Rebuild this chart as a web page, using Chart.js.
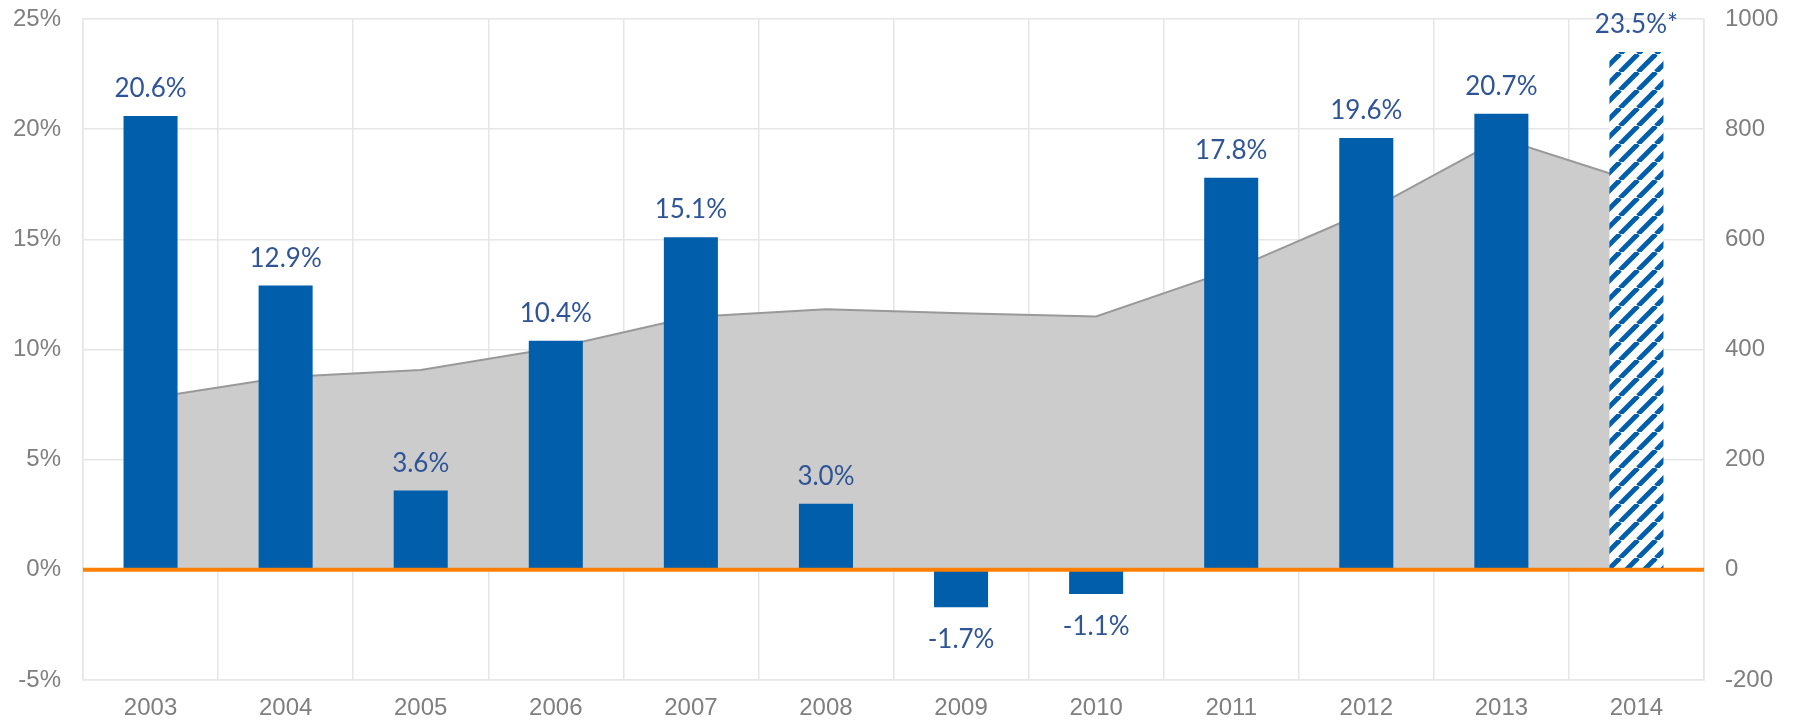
<!DOCTYPE html>
<html>
<head>
<meta charset="utf-8">
<script src="https://cdn.jsdelivr.net/npm/chart.js@4/dist/chart.umd.min.js"></script>
<style>
    html, body { margin: 0; padding: 0; background: #fff; }
    canvas { display: block; }
</style>
</head>
<body>
<canvas id="chartArea" width="1800" height="722"></canvas>
<script>
// Data
const years = ['2003', '2004', '2005', '2006', '2007', '2008', '2009', '2010', '2011', '2012', '2013', '2014'];
const growthPct = [20.6, 12.9, 3.6, 10.4, 15.1, 3.0, -1.7, -1.1, 17.8, 19.6, 20.7, 23.5];
const growthLabels = ['20.6%', '12.9%', '3.6%', '10.4%', '15.1%', '3.0%', '-1.7%', '-1.1%', '17.8%', '19.6%', '20.7%', '23.5%*'];
const isEstimate = [false, false, false, false, false, false, false, false, false, false, false, true];
const totalValue = [312, 350, 363, 403, 459, 473, 466, 460, 544, 650, 783, 704];

const BAR_BLUE = '#005EAB';
const LABEL_BLUE = '#2F5597';
const TICK_GREY = '#7F7F7F';
const GRID_GREY = '#E6E6E6';
const ZERO_ORANGE = '#FF7F00';

// diagonal hatch for the estimated year
function makeHatch() {
    const s = 18;
    const c = document.createElement('canvas');
    c.width = s;
    c.height = s;
    const g = c.getContext('2d');
    g.fillStyle = '#fff';
    g.fillRect(0, 0, s, s);
    g.strokeStyle = BAR_BLUE;
    g.lineWidth = 5;
    for (let k = -1; k <= 1; k++) {
        g.beginPath();
        g.moveTo(k * s, s);
        g.lineTo(k * s + s, 0);
        g.stroke();
    }
    return g.createPattern(c, 'repeat');
}
const hatch = makeHatch();

const zeroLine = {
    id: 'zeroLine',
    afterDatasetsDraw(chart) {
        const { ctx, chartArea } = chart;
        const y = chart.scales.y.getPixelForValue(0);
        ctx.save();
        ctx.strokeStyle = ZERO_ORANGE;
        ctx.lineWidth = 4;
        ctx.beginPath();
        ctx.moveTo(chartArea.left, y);
        ctx.lineTo(chartArea.right, y);
        ctx.stroke();
        ctx.restore();
    }
};

const barLabels = {
    id: 'barLabels',
    afterDatasetsDraw(chart) {
        const ctx = chart.ctx;
        const meta = chart.getDatasetMeta(0);
        ctx.save();
        ctx.fillStyle = LABEL_BLUE;
        ctx.font = '26px Lato, "Open Sans", sans-serif';
        ctx.textAlign = 'center';
        ctx.textBaseline = 'alphabetic';
        meta.data.forEach((bar, i) => {
            const v = growthPct[i];
            const y = v >= 0 ? bar.y - 19 : bar.y + 41;
            ctx.fillText(growthLabels[i], bar.x, y);
        });
        ctx.restore();
    }
};

const tickFont = { family: '"Liberation Sans", Arial, sans-serif', size: 24 };

// pin the axis sizes so the plot area matches the reference
function fixVertical(width) {
    return scale => {
        scale.width = width;
        scale.paddingTop = 0;
        scale.paddingBottom = 0;
    };
}

new Chart(document.getElementById('chartArea').getContext('2d'), {
    type: 'bar',
    data: {
        labels: years,
        datasets: [{
            type: 'bar',
            label: 'Growth',
            data: growthPct,
            yAxisID: 'y',
            backgroundColor: isEstimate.map(e => e ? hatch : BAR_BLUE),
            borderWidth: 0,
            barPercentage: 0.4,
            categoryPercentage: 1,
            order: 1
        }, {
            type: 'line',
            label: 'Total',
            data: totalValue,
            yAxisID: 'y2',
            borderColor: '#999999',
            borderWidth: 2,
            backgroundColor: '#CCCCCC',
            fill: 'origin',
            pointRadius: 0,
            tension: 0,
            order: 2
        }]
    },
    options: {
        responsive: false,
        animation: false,
        layout: { padding: { top: 19, left: 0, right: 0, bottom: 0 } },
        plugins: {
            legend: { display: false },
            tooltip: { enabled: false },
            title: { display: false }
        },
        scales: {
            x: {
                offset: true,
                grid: { color: GRID_GREY, lineWidth: 1.5, offset: true, drawTicks: false },
                border: { color: GRID_GREY, width: 1.5 },
                ticks: { color: TICK_GREY, font: tickFont, padding: 14, maxRotation: 0 },
                afterFit(scale) {
                    scale.height = 42;
                    scale.paddingLeft = 0;
                    scale.paddingRight = 0;
                }
            },
            y: {
                position: 'left',
                min: -5,
                max: 25,
                grid: { color: GRID_GREY, lineWidth: 1.5, drawTicks: false },
                border: { color: GRID_GREY, width: 1.5 },
                ticks: {
                    stepSize: 5,
                    color: TICK_GREY,
                    font: tickFont,
                    padding: 22,
                    callback: v => v + '%'
                },
                afterFit: fixVertical(83)
            },
            y2: {
                position: 'right',
                min: -200,
                max: 1000,
                grid: { drawOnChartArea: false, drawTicks: false },
                border: { color: GRID_GREY, width: 1.5 },
                ticks: {
                    stepSize: 200,
                    color: TICK_GREY,
                    font: tickFont,
                    padding: 21,
                    callback: v => String(v)
                },
                afterFit: fixVertical(96)
            }
        }
    },
    plugins: [zeroLine, barLabels]
});
</script>
</body>
</html>
